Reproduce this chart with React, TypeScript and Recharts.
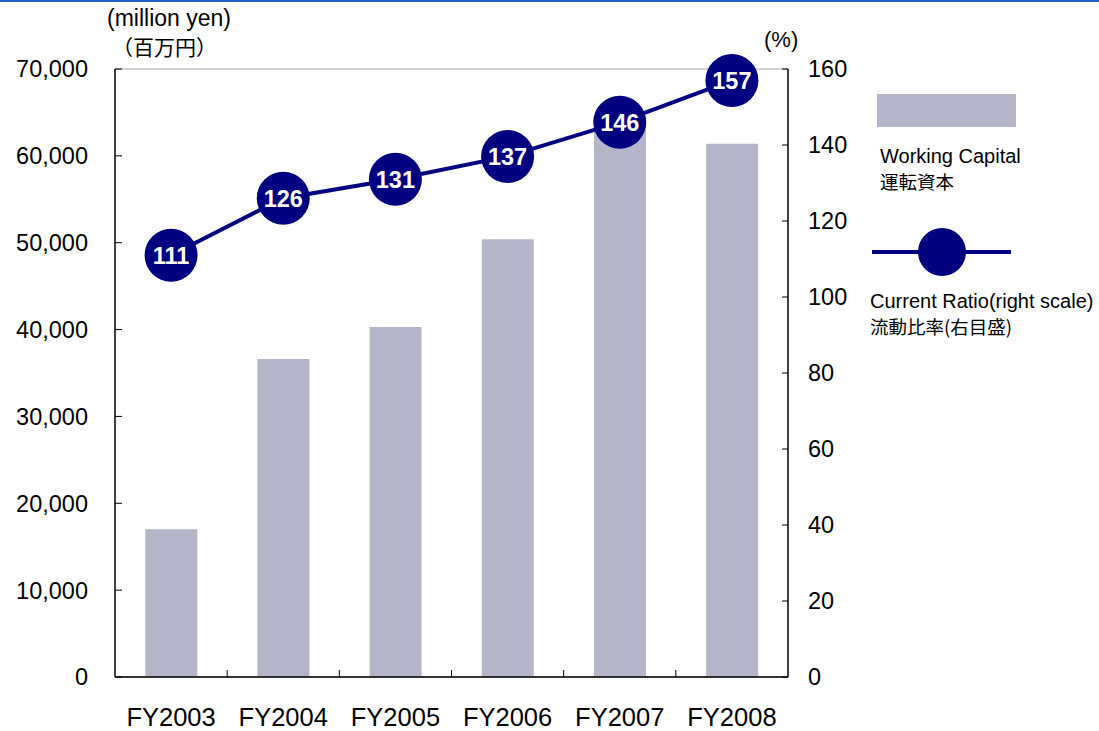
import React from "react";
import {
  ComposedChart,
  Bar,
  Line,
  XAxis,
  YAxis,
  CartesianGrid,
  Legend,
} from "recharts";

const years = ["FY2003", "FY2004", "FY2005", "FY2006", "FY2007", "FY2008"];
const workingCapital = [17000, 36600, 40300, 50400, 63900, 61400];
const currentRatio = [111, 126, 131, 137, 146, 157];
const leftTicks = [0, 10000, 20000, 30000, 40000, 50000, 60000, 70000];
const rightTicks = [0, 20, 40, 60, 80, 100, 120, 140, 160];

const data = years.map((y, i) => ({
  year: y,
  capital: workingCapital[i],
  ratio: currentRatio[i],
}));

const NAVY = "#000080";
const BAR = "#b4b5c9";
const FONT = "'Liberation Sans', Arial, 'Noto Sans CJK JP', sans-serif";
const CJK = "'Noto Sans CJK JP', 'Liberation Sans', sans-serif";

const W = 1099;
const H = 731;
const PLOT_LEFT = 115;
const PLOT_RIGHT = 788;
const BAND = (PLOT_RIGHT - PLOT_LEFT) / years.length;

const fmt = (v: number) => v.toLocaleString("en-US");

const LeftTick = (props: any) => {
  const { x, y, payload } = props;
  const ax = x + 27;
  return (
    <g>
      <line x1={ax} x2={ax + 7} y1={y} y2={y} stroke="#000" strokeWidth={1} />
      <text x={x} y={y} dy="0.36em" textAnchor="end" fontSize={23.5} fill="#000" fontFamily={FONT}>
        {fmt(payload.value)}
      </text>
    </g>
  );
};

const RightTick = (props: any) => {
  const { x, y, payload } = props;
  const ax = x - 20;
  return (
    <g>
      <line x1={ax - 6} x2={ax} y1={y} y2={y} stroke="#000" strokeWidth={1} />
      <text x={x} y={y} dy="0.36em" textAnchor="start" fontSize={23.5} fill="#000" fontFamily={FONT}>
        {payload.value}
      </text>
    </g>
  );
};

const CatTick = (props: any) => {
  const { x, y, payload, index } = props;
  return (
    <g>
      {index > 0 && (
        <line x1={x - BAND / 2} x2={x - BAND / 2} y1={y - 7} y2={y} stroke="#000" strokeWidth={1} />
      )}
      <text x={x} y={y + 40} dy="0.36em" textAnchor="middle" fontSize={25.5} fill="#000" fontFamily={FONT}>
        {payload.value}
      </text>
    </g>
  );
};

const RatioDot = (props: any) => {
  const { cx, cy, value, index } = props;
  return (
    <g key={`dot-${index}`}>
      <circle cx={cx} cy={cy} r={26.5} fill={NAVY} />
      <text x={cx} y={cy} dy="0.36em" textAnchor="middle" fill="#fff" fontWeight="bold" fontSize={23.5} fontFamily={FONT}>
        {value}
      </text>
    </g>
  );
};

const LegendBox = () => (
  <svg width={239} height={270} style={{ display: "block" }}>
    <rect x={17} y={14} width={139} height={33} fill={BAR} />
    <text x={20} y={76} dy="0.36em" fontSize={20} fontFamily={FONT} fill="#000">
      Working Capital
    </text>
    <text x={20} y={102} dy="0.36em" fontSize={18.5} fontFamily={CJK} fill="#000">
      運転資本
    </text>
    <line x1={12} x2={151} y1={172} y2={172} stroke={NAVY} strokeWidth={4} />
    <circle cx={82} cy={172} r={24} fill={NAVY} />
    <text x={10} y={221} dy="0.36em" fontSize={20} fontFamily={FONT} fill="#000">
      Current Ratio(right scale)
    </text>
    <text x={10} y={247} dy="0.36em" fontSize={18.5} fontFamily={CJK} fill="#000">
      流動比率(右目盛)
    </text>
  </svg>
);

export default function App() {
  return (
    <div style={{ position: "absolute", left: 0, top: 0, width: W, height: H, background: "#fff" }}>
      <div style={{ position: "absolute", left: 0, top: 0, width: W, height: 2, background: "#2160c4" }} />
      <div style={{ position: "absolute", left: 107, top: 5, fontSize: 23, fontFamily: FONT, lineHeight: "26px", whiteSpace: "nowrap" }}>
        (million yen)
      </div>
      <div style={{ position: "absolute", left: 112, top: 32, fontSize: 21, fontFamily: CJK, lineHeight: "28px", whiteSpace: "nowrap" }}>
        （百万円）
      </div>
      <div style={{ position: "absolute", left: 764, top: 27, fontSize: 22, fontFamily: FONT, lineHeight: "26px" }}>
        (%)
      </div>
      <ComposedChart
        width={W}
        height={H}
        data={data}
        margin={{ top: 69, right: 251, bottom: 0, left: 8 }}
        barCategoryGap="27%"
        style={{ position: "absolute", left: 0, top: 0 }}
      >
        <CartesianGrid horizontal vertical={false} stroke="#a6a6a6" strokeWidth={1} />
        <XAxis
          dataKey="year"
          height={54}
          axisLine={{ stroke: "#000", strokeWidth: 1.5 }}
          tickLine={false}
          tickSize={0}
          tickMargin={0}
          tick={<CatTick />}
          interval={0}
        />
        <YAxis
          yAxisId="left"
          orientation="left"
          width={107}
          domain={[0, 70000]}
          ticks={leftTicks}
          interval={0}
          axisLine={{ stroke: "#000", strokeWidth: 1.5 }}
          tickLine={false}
          tickSize={0}
          tickMargin={27}
          tick={<LeftTick />}
        />
        <YAxis
          yAxisId="right"
          orientation="right"
          width={60}
          domain={[0, 160]}
          ticks={rightTicks}
          interval={0}
          axisLine={{ stroke: "#000", strokeWidth: 1.5 }}
          tickLine={false}
          tickSize={0}
          tickMargin={20}
          tick={<RightTick />}
        />
        <Legend
          layout="vertical"
          align="center"
          verticalAlign="middle"
          wrapperStyle={{ left: 860, top: 80, width: 239, height: 270 }}
          content={<LegendBox />}
        />
        <Bar yAxisId="left" dataKey="capital" name="Working Capital" fill={BAR} isAnimationActive={false} />
        <Line
          yAxisId="right"
          dataKey="ratio"
          name="Current Ratio"
          stroke={NAVY}
          strokeWidth={4}
          dot={<RatioDot />}
          activeDot={false}
          isAnimationActive={false}
        />
      </ComposedChart>
    </div>
  );
}
